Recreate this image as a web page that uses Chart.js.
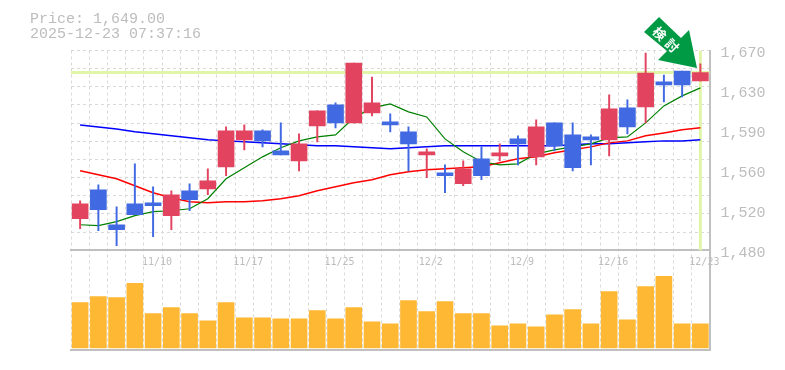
<!DOCTYPE html>
<html><head><meta charset="utf-8">
<style>html,body{margin:0;padding:0;background:#fff}#w{position:relative;width:785px;height:370px}canvas{display:block}</style>
<script src="https://cdn.jsdelivr.net/npm/chart.js@4/dist/chart.umd.min.js"></script>
</head><body><div id="w"><canvas id="c" width="785" height="370"></canvas></div>
<script>
const dates=["11/4","11/5","11/6","11/7","11/10","11/11","11/12","11/13","11/14","11/17","11/18","11/19","11/20","11/21","11/25","11/26","11/27","11/28","12/1","12/2","12/3","12/4","12/5","12/8","12/9","12/10","12/11","12/12","12/15","12/16","12/17","12/18","12/19","12/22","12/23"];
const labelDates=["11/10","11/17","11/25","12/2","12/9","12/16","12/23"];
const opens=[1509.9,1537.5,1504.2,1524.2,1525.1,1512.8,1536.5,1538.4,1559.3,1585,1593.5,1574.5,1565,1598.3,1618.2,1601.1,1610.6,1602.1,1592.6,1570.7,1553.6,1543.2,1566.9,1569.8,1585.9,1568.8,1601.1,1589.7,1587.8,1585,1615.4,1616.3,1640.1,1650.5,1641];
const highs=[1527,1542.2,1521.3,1562.2,1540.3,1536.5,1543.2,1557.4,1597.3,1599.2,1594.5,1601.1,1590.7,1612.5,1620.1,1658.1,1644.8,1609.7,1597.3,1576.4,1561.2,1565,1578.3,1581.2,1588.8,1604,1601.1,1601.1,1589.7,1627.7,1623,1667.6,1646.7,1650.5,1657.2];
const lows=[1500.4,1498.5,1484.3,1513.7,1492.8,1499.5,1517.5,1532.7,1550.8,1575.5,1578.3,1570.7,1555.5,1583.1,1596.4,1601.1,1607.8,1592.6,1555.5,1548.9,1534.6,1541.3,1547,1565,1561.2,1561.2,1574.5,1555.5,1561.2,1569.8,1590.7,1601.1,1621.1,1625.8,1641];
const closes=[1524.2,1518.5,1499.5,1513.7,1522.3,1532.7,1528,1546,1593.5,1593.5,1584,1570.7,1581.2,1612.5,1601.1,1658.1,1620.1,1599.2,1581.2,1573.6,1550.8,1557.4,1550.8,1572.6,1581.2,1597.3,1579.3,1558.4,1585,1614.4,1597.3,1648.6,1637.2,1637.2,1649];
const maShort=[1504.2,1503.3,1507.1,1512.8,1516.6,1517.5,1519.4,1528.9,1547.9,1558.4,1568.8,1577.4,1584,1587.8,1589.7,1605.9,1615.4,1619.2,1611.6,1606.8,1585.9,1573.6,1564.1,1561.2,1562.2,1571.7,1575.5,1578.3,1581.2,1586.9,1587.8,1601.1,1617.3,1626.8,1634.4];
const maMid=[1555.5,1551.7,1547.9,1541.3,1534.6,1529.9,1526.1,1525.1,1526.1,1526.1,1527,1528.9,1531.8,1536.5,1540.3,1544.1,1547,1551.7,1554.6,1556.5,1557.4,1558.4,1559.3,1563.1,1566.9,1568.8,1572.6,1575.5,1578.3,1582.1,1584,1588.8,1591.6,1594.5,1596.4];
const maLong=[1599.2,1597.3,1595.4,1592.6,1590.7,1588.8,1586.9,1585,1584,1583.1,1582.1,1581.2,1580.2,1579.3,1579.3,1578.3,1577.4,1576.4,1577.4,1578.3,1579.3,1579.3,1579.3,1579.3,1579.3,1579.3,1579.3,1580.2,1581.2,1581.2,1582.1,1583.1,1584,1584,1585];
const volumes=[45,51,50,64,34,40,34,27,45,30,30,29,29,37,29,40,26,24,47,36,46,34,34,22,24,21,33,38,24,56,28,61,71,24,24];
const priceTicks=[1480,1518,1556,1594,1632,1670];
const gridSteps=[5.5,6.5,7.5,8.5,9.5,10.5,11.5,12.5,13.5,14.5,15.5,16.5];
const lastPrice=1649;
const titleLines=["Price: 1,649.00","2025-12-23 07:37:16"];
const badgeChars=["検","討"];

const RED="#E2435F",BLUE="#4169E1",GRID="#d9d9d9",AXIS="#c0c0c0",TXT="#bdbdbd",HL="#e1f5a9",GREEN="#009a44";
const fmt=v=>(Math.round(v/10)*10).toLocaleString("en-US");
const colors=opens.map((o,i)=>closes[i]>=o?RED:BLUE);
const overlay={id:"overlay",
 beforeDatasetsDraw(ch){
  const {ctx,scales:{x,y},chartArea:a}=ch;
  const py=y.getPixelForValue(lastPrice),px=x.getPixelForValue(dates.length-1);
  ctx.save();ctx.strokeStyle=HL;ctx.lineWidth=3;
  ctx.beginPath();ctx.moveTo(a.left,py);ctx.lineTo(a.right,py);
  ctx.moveTo(px,y.top);ctx.lineTo(px,y.bottom);ctx.stroke();ctx.restore();
 },
 afterDraw(ch){
  const {ctx}=ch;
  ctx.save();
  ctx.fillStyle=TXT;ctx.font="15px 'Liberation Mono'";ctx.textBaseline="alphabetic";ctx.textAlign="left";
  ctx.fillText(titleLines[0],30,23);ctx.fillText(titleLines[1],30,38);
  ctx.fillStyle=GREEN;ctx.beginPath();
  [[659,17],[681,38],[689,30],[697,68],[658,60],[667,51],[644,32]].forEach(([a,b],i)=>i?ctx.lineTo(a,b):ctx.moveTo(a,b));
  ctx.closePath();ctx.fill();
  ctx.fillStyle="#fff";ctx.font="bold 13px 'Noto Sans CJK JP'";ctx.textAlign="center";ctx.textBaseline="middle";
  [[659.5,33.5],[672,45.5]].forEach(([a,b],i)=>{ctx.save();ctx.translate(a,b);ctx.rotate(Math.PI/4);ctx.fillText(badgeChars[i],0,0);ctx.restore();});
  ctx.restore();
 }};
new Chart(document.getElementById("c"),{
 data:{labels:dates,datasets:[
  {type:"line",data:maLong,borderColor:"#0000ff",borderWidth:1.5,pointRadius:0,tension:0,yAxisID:"y",order:5},
  {type:"line",data:maMid,borderColor:"#ff0000",borderWidth:1.5,pointRadius:0,tension:0,yAxisID:"y",order:4},
  {type:"line",data:maShort,borderColor:"#008000",borderWidth:1.2,pointRadius:0,tension:0,yAxisID:"y",order:3},
  {type:"bar",data:highs.map((h,i)=>[lows[i],h]),backgroundColor:colors,barThickness:1.3,grouped:false,yAxisID:"y",order:2},
  {type:"bar",data:opens.map((o,i)=>[o,closes[i]]),backgroundColor:colors,barThickness:16,grouped:false,yAxisID:"y",order:1},
  {type:"bar",data:volumes,backgroundColor:"#FFB833",barThickness:16,grouped:false,yAxisID:"yVol",order:6}
 ]},
 plugins:[overlay],
 options:{responsive:false,animation:false,events:[],
  layout:{padding:{left:71,top:50.5,right:0,bottom:19.5}},
  plugins:{legend:{display:false},tooltip:{enabled:false},title:{display:false}},
  scales:{
   x:{type:"category",position:"bottom",offset:true,
      grid:{color:GRID,lineWidth:1,offset:true,drawTicks:false},
      border:{color:AXIS,width:2,dash:[3,3],display:true},
      ticks:{display:false}},
   xLabels:{type:"category",labels:dates,position:{y:1480},offset:true,
      grid:{display:false,drawTicks:false},border:{color:AXIS,width:2},
      ticks:{autoSkip:false,maxRotation:0,color:TXT,padding:6,labelOffset:4,font:{family:"DejaVu Sans Mono",size:10},
        callback(v){const l=dates[v];return labelDates.includes(l)?l:"";}}},
   y:{type:"linear",position:"right",stack:"p",stackWeight:2,min:1480,max:1670,
      grid:{display:false,drawTicks:false},border:{color:AXIS,width:2},
      afterBuildTicks(s){s.ticks=priceTicks.map(value=>({value}));},
      afterFit(s){s.width=75.5;},
      ticks:{autoSkip:false,color:TXT,padding:11,labelOffset:3,font:{family:"Liberation Mono",size:15},callback:v=>fmt(v)}},
   yVol:{type:"linear",position:"right",stack:"p",stackWeight:1,min:-2,max:97,
      grid:{display:false,drawTicks:false},border:{color:AXIS,width:2},
      afterFit(s){s.width=75.5;},ticks:{display:false}},
   yGrid:{type:"linear",position:"right",min:0,max:16.5,
      grid:{color:GRID,lineWidth:1,drawTicks:false},border:{display:false,dash:[3,3]},
      afterBuildTicks(s){s.ticks=gridSteps.map(value=>({value}));},
      afterFit(s){s.width=0;},ticks:{display:false}}
  }
 }
});
</script></body></html>
